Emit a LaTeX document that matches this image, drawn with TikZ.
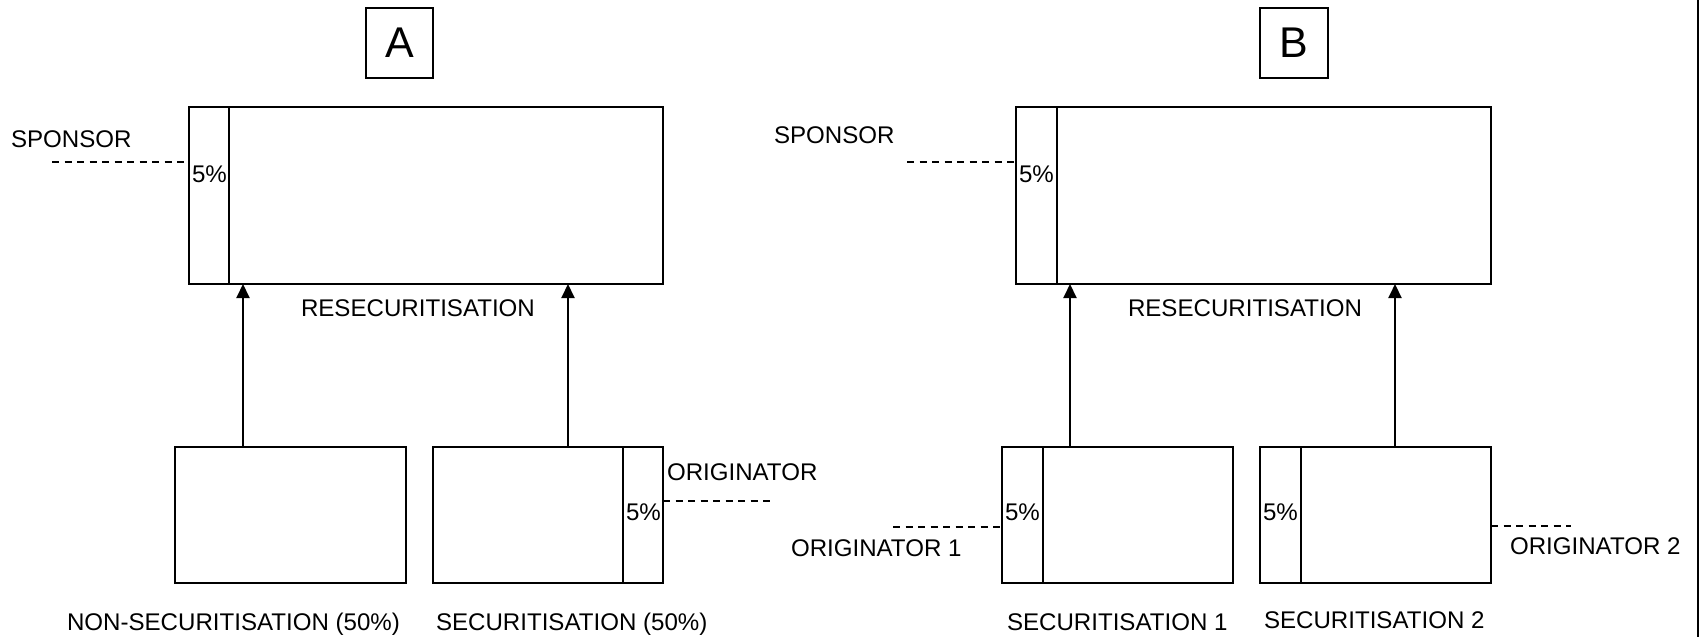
\documentclass[tikz,border=0pt]{standalone}
\usepackage{fontspec}
\setmainfont{Liberation Sans}
\usetikzlibrary{arrows.meta}
\begin{document}
\begin{tikzpicture}[x=1pt,y=-1pt,
  every node/.style={inner sep=0pt,outer sep=0pt},
  box/.style={draw,line width=1.9pt,inner sep=0pt,outer sep=0pt},
  tag/.style={box,font=\fontsize{43}{50}\selectfont},
  lbl/.style={anchor=base west,font=\fontsize{24.1}{28}\selectfont},
  divider/.style={line width=1.3pt},
  flow/.style={line width=2pt,-{Triangle[length=14pt,width=13pt]}},
  lead/.style={line width=1.5pt,dash pattern=on 7pt off 5.5pt}]
\useasboundingbox (0,0) rectangle (1701,637);

% ---------------- panel A ----------------
\node[tag,minimum width=67,minimum height=70] (tagA) at (399.5,43) {A};
\node[box,minimum width=474,minimum height=177] (topA) at (426,195.5) {};
\node[box,minimum width=231,minimum height=136] (nsA) at (290.5,515) {};
\node[box,minimum width=230,minimum height=136] (sA) at (548,515) {};

\draw[divider] ([xshift=40]topA.north west) -- ([xshift=40]topA.south west);
\draw[divider] ([xshift=-40]sA.north east) -- ([xshift=-40]sA.south east);

\coordinate (xa1) at (243,0);
\coordinate (xa2) at (568,0);
\draw[flow] (nsA.north -| xa1) -- (topA.south -| xa1);
\draw[flow] (sA.north -| xa2) -- (topA.south -| xa2);

\coordinate (spA) at (52,162);
\draw[lead] (spA) -- (spA -| topA.west);
\coordinate (orA) at (770,501);
\draw[lead] (orA -| sA.east) -- (orA);

\node[lbl] (spAtxt) at (11,147.4) {SPONSOR};
\node[lbl] (pcA1) at (192,182) {5\%};
\node[lbl] (resA) at (301,316) {RESECURITISATION};
\node[lbl] (orAtxt) at (667,480) {ORIGINATOR};
\node[lbl] (pcA2) at (626,520) {5\%};
\node[lbl] (nsAtxt) at (67,630) {NON-SECURITISATION (50\%)};
\node[lbl] (sAtxt) at (436,630) {SECURITISATION (50\%)};

% ---------------- panel B ----------------
\node[tag,minimum width=68,minimum height=70] (tagB) at (1294,43) {B};
\node[box,minimum width=475,minimum height=177] (topB) at (1253.5,195.5) {};
\node[box,minimum width=231,minimum height=136] (s1B) at (1117.5,515) {};
\node[box,minimum width=231,minimum height=136] (s2B) at (1375.5,515) {};

\draw[divider] ([xshift=41]topB.north west) -- ([xshift=41]topB.south west);
\draw[divider] ([xshift=41]s1B.north west) -- ([xshift=41]s1B.south west);
\draw[divider] ([xshift=41]s2B.north west) -- ([xshift=41]s2B.south west);

\coordinate (xb1) at (1070,0);
\coordinate (xb2) at (1395,0);
\draw[flow] (s1B.north -| xb1) -- (topB.south -| xb1);
\draw[flow] (s2B.north -| xb2) -- (topB.south -| xb2);

\coordinate (spB) at (907,162);
\draw[lead] (spB) -- (spB -| topB.west);
\coordinate (or1B) at (893,527);
\draw[lead] (or1B) -- (or1B -| s1B.west);
\coordinate (or2B) at (1571,526);
\draw[lead] (or2B -| s2B.east) -- (or2B);

\node[lbl] (spBtxt) at (774,143.4) {SPONSOR};
\node[lbl] (pcB0) at (1019,182) {5\%};
\node[lbl] (resB) at (1128,316) {RESECURITISATION};
\node[lbl] (pcB1) at (1005,520) {5\%};
\node[lbl] (pcB2) at (1263,520) {5\%};
\node[lbl] (or1Btxt) at (791,556) {ORIGINATOR 1};
\node[lbl] (or2Btxt) at (1510,554) {ORIGINATOR 2};
\node[lbl] (s1Btxt) at (1007,630) {SECURITISATION 1};
\node[lbl] (s2Btxt) at (1264,628) {SECURITISATION 2};

% right-hand rule
\coordinate (edgeT) at (1698,0);
\coordinate (edgeB) at (1698,637);
\draw[line width=1.5pt] (edgeT) -- (edgeB);
\end{tikzpicture}
\end{document}
